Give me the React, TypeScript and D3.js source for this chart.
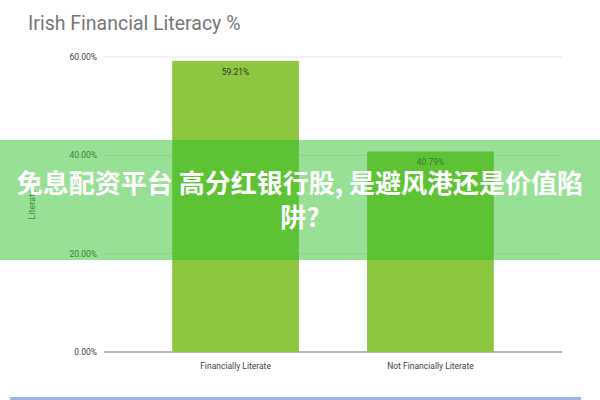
import * as d3 from 'd3';

const categories = ['Financially Literate', 'Not Financially Literate'];
const values = [59.21, 40.79];
const yTicks = [0, 20, 40, 60];
const title = 'Irish Financial Literacy %';
const yLabel = 'Literate';
const bannerLines = ['免息配资平台 高分红银行股, 是避风港还是价值陷', '阱?'];

export default function App() {
  const width = 600;
  const height = 400;

  const x = d3.scaleBand<string>().domain(categories).range([104, 562]).paddingInner(0.35).paddingOuter(0.35);
  const y = d3.scaleLinear().domain([0, 60]).range([352, 57]);
  const fmt = (v: number) => `${v.toFixed(2)}%`;

  return (
    <svg
      width={width}
      height={height}
      style={{ position: 'absolute', left: 0, top: 0, background: '#fff' }}
      fontFamily="Roboto, Arial, sans-serif"
    >
      <text x={28} y={30} fontSize={19.5} fill="#777">{title}</text>

      {yTicks.map((t) => (
        <g key={t}>
          <line
            x1={104} x2={562} y1={y(t)} y2={y(t)}
            stroke={t === 0 ? '#9e9e9e' : '#e6e6e6'}
            strokeWidth={t === 0 ? 1.5 : 1}
          />
          <text x={97} y={y(t)} dy="0.35em" textAnchor="end" fontSize={8.5} fill="#444">{fmt(t)}</text>
        </g>
      ))}

      <text
        transform={`translate(35, ${y(30)}) rotate(-90)`}
        textAnchor="middle" fontSize={9} fill="#555"
      >{yLabel}</text>

      {categories.map((c, i) => (
        <g key={c}>
          <rect
            x={x(c)} y={y(values[i])}
            width={x.bandwidth()} height={y(0) - y(values[i])}
            fill="#8dc63f"
          />
          <text
            x={(x(c) as number) + x.bandwidth() / 2} y={y(values[i]) + 14}
            textAnchor="middle" fontSize={8.5} fill="#333"
          >{fmt(values[i])}</text>
          <text
            x={(x(c) as number) + x.bandwidth() / 2} y={369}
            textAnchor="middle" fontSize={8.5} fill="#444"
          >{c}</text>
        </g>
      ))}

      <rect x={10} y={397} width={571} height={3} fill="#9fb4e8" />

      <rect x={0} y={140} width={width} height={120} fill="rgba(45,192,41,0.49)" />
      {bannerLines.map((l, i) => (
        <text
          key={i} x={300} y={193 + i * 34}
          textAnchor="middle" fontSize={26} fontWeight="bold" fill="#fff"
          fontFamily="'Noto Sans CJK SC', sans-serif"
        >{l}</text>
      ))}
    </svg>
  );
}
